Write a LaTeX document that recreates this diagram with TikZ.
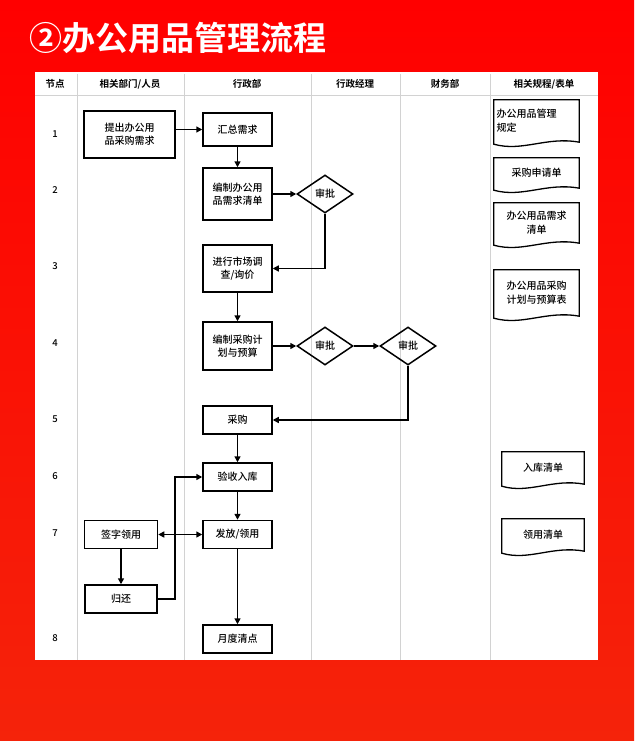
\documentclass[tikz,border=0pt]{standalone}
\usepackage{fontspec}
\setmainfont{Noto Sans CJK SC}
\newfontfamily\titlefont{Noto Sans CJK SC Bold}
\newfontfamily\medfont{Noto Sans CJK SC Medium}
\usetikzlibrary{calc,arrows.meta,shapes.geometric}
\begin{document}
\begin{tikzpicture}[x=1pt,y=-1pt,
  box/.style={draw,line width=1.5pt,minimum width=69pt,minimum height=28pt,align=center,font=\medfont\fontsize{10}{13}\selectfont,inner sep=1pt},
  dia/.style={draw,line width=1.5pt,shape=diamond,aspect=1.5,minimum width=56pt,minimum height=38pt,inner sep=0pt,font=\medfont\fontsize{10}{12}\selectfont},
  doc/.style={minimum width=85pt,align=center,font=\medfont\fontsize{10}{14}\selectfont,inner sep=2pt},
  hdr/.style={font=\titlefont\fontsize{9.5}{11}\selectfont},
  num/.style={font=\medfont\fontsize{9.5}{11}\selectfont},
  arr/.style={line width=1.5pt,-{Triangle[length=6pt,width=6pt]}},
  lane/.style={draw=gray!35,line width=0.6pt}]
\useasboundingbox (0,0) rectangle (634,741);
\shade[top color=red,bottom color={rgb,255:red,245;green,35;blue,10}] (0,0) rectangle (634,741);
\node[anchor=west,text=white,font=\titlefont\fontsize{33}{36}\selectfont] (title) at (26,38) {②办公用品管理流程};
\fill[white] (35,72) rectangle (598,660);
\foreach \x in {77,184,311,400,490} \draw[lane] (\x,74) -- (\x,660);
\draw[lane] (35,95) -- (598,95);
\node[hdr] (h0) at (55,84) {节点};
\node[hdr] (h1) at (130,84) {相关部门/人员};
\node[hdr] (h2) at (247,84) {行政部};
\node[hdr] (h3) at (355,84) {行政经理};
\node[hdr] (h4) at (445,84) {财务部};
\node[hdr] (h5) at (544,84) {相关规程/表单};
\foreach \n/\y in {1/134,2/190,3/266,4/343,5/419,6/476,7/533,8/638} \node[num] (r\n) at (55,\y) {\n};
\node[box,minimum width=91pt,minimum height=47pt] (tc) at (129.5,134.5) {提出办公用\\品采购需求};
\node[box,minimum height=33pt] (hz) at (237.5,129.5) {汇总需求};
\node[box,minimum height=52pt] (bz) at (237.5,194) {编制办公用\\品需求清单};
\node[dia] (sp1) at (325,194) {审批};
\node[box,minimum height=47pt] (sc) at (237.5,268.5) {进行市场调\\查/询价};
\node[box,minimum height=48pt] (jh) at (237.5,346) {编制采购计\\划与预算};
\node[dia] (sp2) at (325,346) {审批};
\node[dia] (sp3) at (408,346) {审批};
\node[box] (cg) at (237.5,420) {采购};
\node[box] (ys) at (237.5,477) {验收入库};
\node[box] (ff) at (237.5,534.5) {发放/领用};
\node[box,minimum width=73pt] (qz) at (121,534.5) {签字领用};
\node[box,minimum width=72pt] (gh) at (121,599) {归还};
\node[box] (yd) at (237.5,639) {月度清点};
\draw[arr] (tc.east |- hz) -- (hz);
\draw[arr] (hz) -- (bz);
\draw[arr] (bz) -- (sp1);
\draw[arr] (sp1.south) |- (sc.east);
\draw[arr] (sc) -- (jh);
\draw[arr] (jh) -- (sp2);
\draw[arr] (sp2) -- (sp3);
\draw[arr] (sp3.south) |- (cg.east);
\draw[arr] (cg) -- (ys);
\draw[arr] (ys) -- (ff);
\draw[line width=1.5pt,{Triangle[length=6pt,width=6pt]}-{Triangle[length=6pt,width=6pt]}] (qz) -- (ff);
\draw[arr] (qz) -- (gh);
\coordinate (tu) at (175,599);
\draw[arr] (gh.east) -- (tu) |- (ys.west);
\draw[arr] (ff) -- (yd);
% documents
\newcommand\docdraw[1]{%
  \draw[line width=1.3pt] (#1.south west) -- (#1.north west) -- (#1.north east) -- (#1.south east)
  .. controls ($(#1.south)+(10,-6)$) and ($(#1.south)+(-14,10)$) .. ($(#1.south west)+(0,2)$) -- cycle;}
\node[doc,minimum height=42pt,text width=80pt,align=left] (d1) at (536.5,121) {办公用品管理\\规定};
\docdraw{d1}
\node[doc,minimum height=30pt] (d2) at (536.5,173) {采购申请单};
\docdraw{d2}
\node[doc,minimum height=40pt] (d3) at (536.5,223) {办公用品需求\\清单};
\docdraw{d3}
\node[doc,minimum height=46pt] (d4) at (536.5,293) {办公用品采购\\计划与预算表};
\docdraw{d4}
\node[doc,minimum width=82pt,minimum height=32pt] (d5) at (543,468) {入库清单};
\docdraw{d5}
\node[doc,minimum width=82pt,minimum height=32pt] (d6) at (543,535) {领用清单};
\docdraw{d6}
\end{tikzpicture}
\end{document}
